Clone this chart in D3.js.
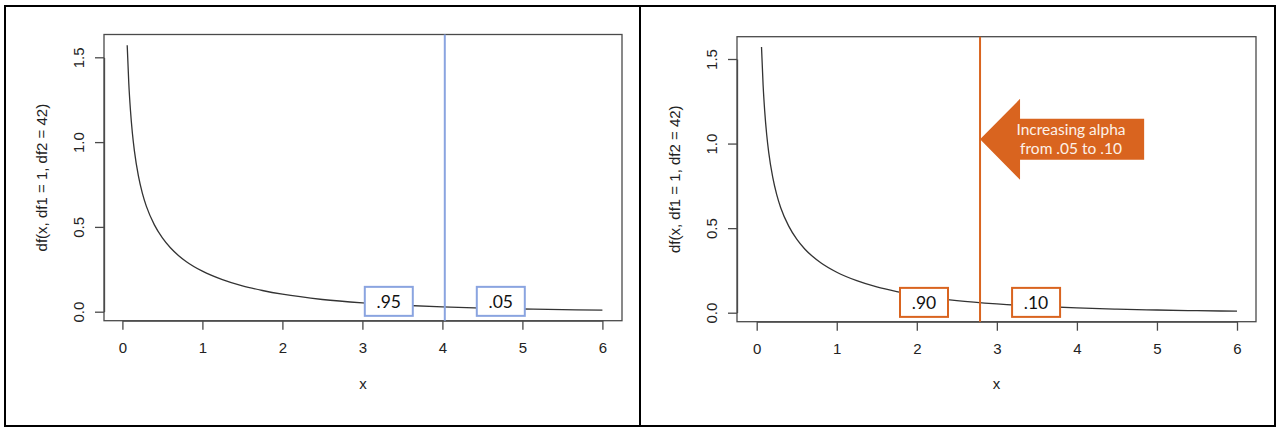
<!DOCTYPE html>
<html>
<head>
<meta charset="utf-8">
<script src="https://cdn.jsdelivr.net/npm/d3@7"></script>
<style>
  html, body { margin: 0; padding: 0; background: #fff; }
  svg { display: block; }
</style>
</head>
<body>
<svg id="chart" width="1280" height="432"></svg>
<script>
// ---- data ----
const curveX = [0.06, 0.08, 0.1, 0.125, 0.15, 0.2, 0.25, 0.3, 0.4, 0.5, 0.6, 0.7, 0.8, 1.0, 1.25, 1.5, 1.75, 2.0, 2.5, 3.0, 3.5, 4.0, 4.5, 5.0, 5.5, 6.0];
const curveY = [1.571, 1.346, 1.192, 1.052, 0.948, 0.801, 0.698, 0.621, 0.512, 0.435, 0.377, 0.332, 0.295, 0.239, 0.189, 0.152, 0.125, 0.103, 0.072, 0.052, 0.038, 0.028, 0.021, 0.016, 0.012, 0.009];
const xTicks = [0, 1, 2, 3, 4, 5, 6];
const yTicks = [0, 0.5, 1.0, 1.5];
const xTitle = "x";
const yTitle = "df(x, df1 = 1, df2 = 42)";
const critValues = [4.03, 2.79];
const leftLabels = [".95", ".05"];
const leftLabelX = [3.33, 4.73];
const rightLabels = [".90", ".10"];
const rightLabelX = [2.09, 3.49];
const labelY = 0.061;
const arrowText = ["Increasing alpha", "from .05 to .10"];
const arrowY = 1.025;
const arrowEndX = 4.84;

// ---- layout ----
const svg = d3.select("#chart");
const fontR = "'Liberation Sans', Arial, sans-serif";
const fontA = "Lato, 'Open Sans', sans-serif";
const blue = "#8aa4e0";
const orange = "#d9641f";

const panels = [
  { box: [104, 34.5, 622, 320.7], xr: [122.4, 602.4], yr: [311.7, 57.3], crit: critValues[0], color: blue,
    labels: leftLabels, labelX: leftLabelX, arrow: false },
  { box: [737, 36.7, 1256, 321.7], xr: [756.7, 1237], yr: [312.7, 59], crit: critValues[1], color: orange,
    labels: rightLabels, labelX: rightLabelX, arrow: true }
];

// outer frame
svg.append("rect").attr("x", 5).attr("y", 6).attr("width", 1270).attr("height", 420)
  .attr("fill", "none").attr("stroke", "#000").attr("stroke-width", 2);
svg.append("line").attr("x1", 640).attr("x2", 640).attr("y1", 6).attr("y2", 426)
  .attr("stroke", "#000").attr("stroke-width", 2);

const pts = curveX.map((x, i) => [x, curveY[i]]);

panels.forEach(p => {
  const [bx0, by0, bx1, by1] = p.box;
  const x = d3.scaleLinear().domain([0, 6]).range(p.xr);
  const y = d3.scaleLinear().domain([0, 1.5]).range(p.yr);
  const g = svg.append("g");

  // curve
  g.append("path").datum(pts)
    .attr("d", d3.line().x(d => x(d[0])).y(d => y(d[1])).curve(d3.curveMonotoneX))
    .attr("fill", "none").attr("stroke", "#333").attr("stroke-width", 1.3);

  // plot box
  g.append("rect").attr("x", bx0).attr("y", by0).attr("width", bx1 - bx0).attr("height", by1 - by0)
    .attr("fill", "none").attr("stroke", "#4a4a4a").attr("stroke-width", 1.3);

  // x axis
  const xa = g.append("g").attr("transform", `translate(0,${by1})`)
    .call(d3.axisBottom(x).tickValues(xTicks).tickSize(9).tickSizeOuter(0).tickPadding(13).tickFormat(d3.format("d")));
  xa.select(".domain").attr("stroke", "#4a4a4a").attr("stroke-width", 1.3);
  xa.selectAll(".tick line").attr("stroke", "#4a4a4a").attr("stroke-width", 1.3);
  xa.selectAll("text").attr("font-family", fontR).attr("font-size", 15).attr("fill", "#222");

  // y axis
  const ya = g.append("g").attr("transform", `translate(${bx0},0)`)
    .call(d3.axisLeft(y).tickValues(yTicks).tickSize(9).tickSizeOuter(0).tickFormat(d3.format(".1f")));
  ya.select(".domain").attr("stroke", "#4a4a4a").attr("stroke-width", 1.3);
  ya.selectAll(".tick line").attr("stroke", "#4a4a4a").attr("stroke-width", 1.3);
  ya.selectAll("text")
    .attr("x", null).attr("dy", null).attr("y", null)
    .attr("transform", "translate(-20,0) rotate(-90)")
    .attr("text-anchor", "middle")
    .attr("font-family", fontR).attr("font-size", 15).attr("fill", "#222");

  // axis titles
  g.append("text").attr("x", (bx0 + bx1) / 2).attr("y", 389)
    .attr("text-anchor", "middle").attr("font-family", fontR).attr("font-size", 15).attr("fill", "#222")
    .text(xTitle);
  g.append("text").attr("transform", `translate(${bx0 - 57},${(by0 + by1) / 2}) rotate(-90)`)
    .attr("text-anchor", "middle").attr("font-family", fontR).attr("font-size", 15).attr("fill", "#222")
    .text(yTitle);

  // critical value line
  g.append("line").attr("x1", x(p.crit)).attr("x2", x(p.crit)).attr("y1", by0).attr("y2", by1)
    .attr("stroke", p.color).attr("stroke-width", 2);

  // label boxes
  const bw = 48, bh = 29;
  p.labels.forEach((lab, i) => {
    const cx = x(p.labelX[i]), cy = y(labelY);
    g.append("rect").attr("x", cx - bw / 2).attr("y", cy - bh / 2).attr("width", bw).attr("height", bh)
      .attr("fill", "#fff").attr("stroke", p.color).attr("stroke-width", 2);
    g.append("text").attr("x", cx).attr("y", cy).attr("dy", "0.36em")
      .attr("text-anchor", "middle").attr("font-family", fontA).attr("font-size", 17.5).attr("fill", "#111")
      .text(lab);
  });

  // arrow
  if (p.arrow) {
    const tx = x(p.crit), ty = y(arrowY), ex = x(arrowEndX);
    const headLen = 40, headH = 40.5, shaftH = 20.5;
    const poly = [[tx, ty], [tx + headLen, ty - headH], [tx + headLen, ty - shaftH], [ex, ty - shaftH],
                  [ex, ty + shaftH], [tx + headLen, ty + shaftH], [tx + headLen, ty + headH]];
    g.append("polygon").attr("points", poly.map(d => d.join(",")).join(" "))
      .attr("fill", orange);
    arrowText.forEach((t, i) => {
      g.append("text").attr("x", 1071).attr("y", ty - 10 + i * 19).attr("dy", "0.36em")
        .attr("text-anchor", "middle").attr("font-family", fontA).attr("font-size", 15.5)
        .attr("fill", "#fdf1e8").text(t);
    });
  }
});
</script>
</body>
</html>
